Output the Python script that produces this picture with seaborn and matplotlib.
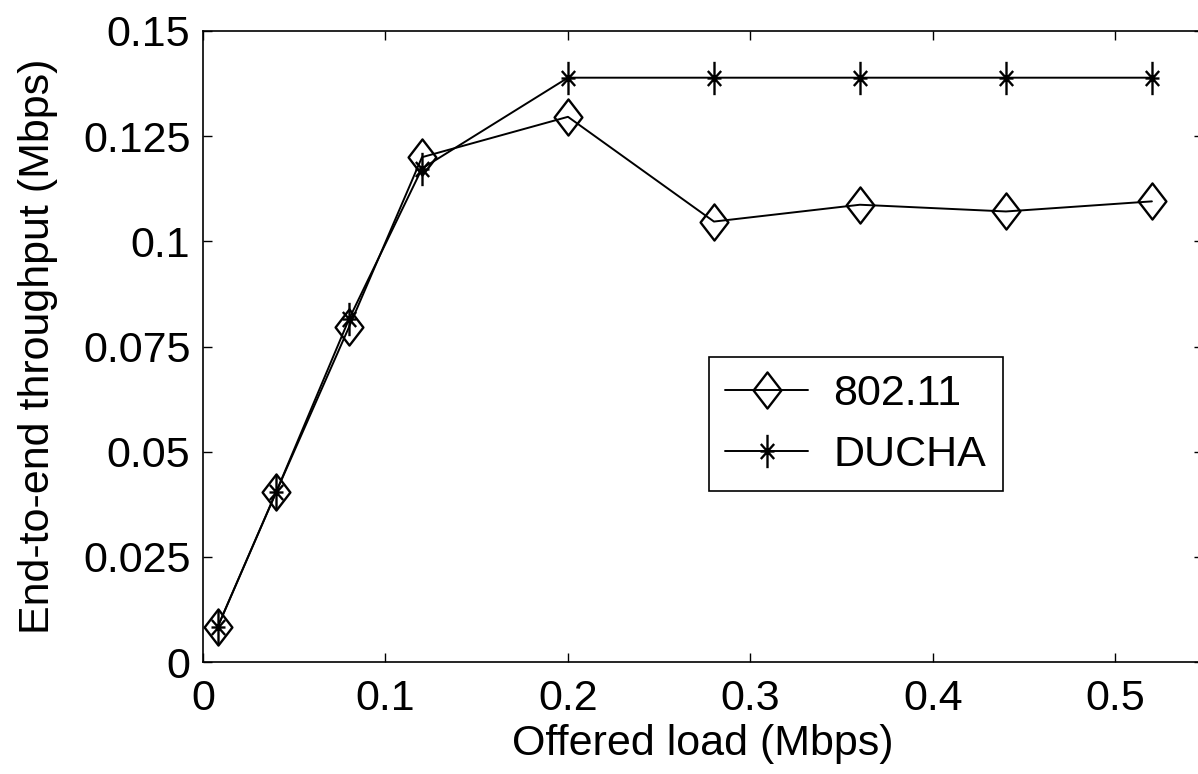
import numpy as np
import pandas as pd
import matplotlib
matplotlib.use("Agg")
import matplotlib.pyplot as plt
from matplotlib.path import Path
from matplotlib.lines import Line2D
import seaborn as sns

# Offered load (Mbps) and measured end-to-end throughput (Mbps)
offered_load = [0.008, 0.04, 0.08, 0.12, 0.20, 0.28, 0.36, 0.44, 0.52]
thr_80211 = [0.0083, 0.0403, 0.0796, 0.1200, 0.1296, 0.1047, 0.1087, 0.1071, 0.1095]
thr_ducha = [0.0083, 0.0403, 0.0815, 0.1173, 0.1389, 0.1389, 0.1389, 0.1389, 0.1389]
series_names = ["802.11", "DUCHA"]

x_ticks = [0, 0.1, 0.2, 0.3, 0.4, 0.5]
x_tick_labels = ["0", "0.1", "0.2", "0.3", "0.4", "0.5"]
y_ticks = [0, 0.025, 0.05, 0.075, 0.1, 0.125, 0.15]
y_tick_labels = ["0", "0.025", "0.05", "0.075", "0.1", "0.125", "0.15"]

df = pd.DataFrame({
    "load": offered_load * 2,
    "throughput": thr_80211 + thr_ducha,
    "protocol": [series_names[0]] * len(offered_load) + [series_names[1]] * len(offered_load),
})

sns.set_theme(style="white")
plt.rcParams["font.family"] = ["Liberation Sans", "DejaVu Sans"]

# Open diamond and asterisk marker shapes
diamond = Path([(0, 1), (0.77, 0), (0, -1), (-0.77, 0), (0, 1)],
               [Path.MOVETO, Path.LINETO, Path.LINETO, Path.LINETO, Path.CLOSEPOLY])
asterisk = Path([(0, -1), (0, 1), (-0.42, 0), (0.42, 0),
                 (-0.4, -0.45), (0.4, 0.45), (-0.4, 0.45), (0.4, -0.45)],
                [Path.MOVETO, Path.LINETO] * 4)

FS = 31
LW = 1.4

fig = plt.figure(figsize=(11.98, 7.74), dpi=100)
ax = fig.add_axes([203 / 1198, 112 / 774, 1000 / 1198, 631 / 774])

styles = {"802.11": (diamond, 26), "DUCHA": (asterisk, 24)}
handles = []
for name in series_names:
    sub = df[df["protocol"] == name]
    mk, ms = styles[name]
    sns.lineplot(data=sub, x="load", y="throughput", ax=ax, color="black",
                 linewidth=LW, marker=mk, markersize=ms, markerfacecolor="none",
                 markeredgecolor="black", markeredgewidth=LW + 0.3, legend=False)
    handles.append(Line2D([], [], color="black", linewidth=LW, marker=mk,
                          markersize=ms, markerfacecolor="none",
                          markeredgecolor="black", markeredgewidth=LW + 0.3, label=name))

ax.set_xlim(0, 0.548)
ax.set_ylim(0, 0.15)
ax.set_xticks(x_ticks)
ax.set_xticklabels(x_tick_labels)
ax.set_yticks(y_ticks)
ax.set_yticklabels(y_tick_labels)
ax.tick_params(direction="in", length=6.5, width=1, colors="black",
               labelsize=FS, top=True, right=True, bottom=True, left=True)
ax.tick_params(axis="x", pad=12)
ax.tick_params(axis="y", pad=9)
for s in ax.spines.values():
    s.set_visible(True)
    s.set_color("black")
    s.set_linewidth(1.2)

ax.set_xlabel("Offered load (Mbps)", fontsize=FS, labelpad=4, color="black")
ax.set_ylabel("End-to-end throughput (Mbps)", fontsize=FS, labelpad=18, color="black")

leg = ax.legend(handles=handles, loc="upper left", bbox_to_anchor=(0.506, 0.483),
                borderaxespad=0, fontsize=FS, frameon=True, fancybox=False,
                edgecolor="black", handlelength=1.93, handletextpad=0.58,
                labelspacing=0.49, borderpad=0.38, markerscale=1.0)
leg.get_frame().set_linewidth(1.2)
leg.get_frame().set_alpha(1)
for t in leg.get_texts():
    t.set_color("black")

fig.savefig("out.png", dpi=100, facecolor="white")
